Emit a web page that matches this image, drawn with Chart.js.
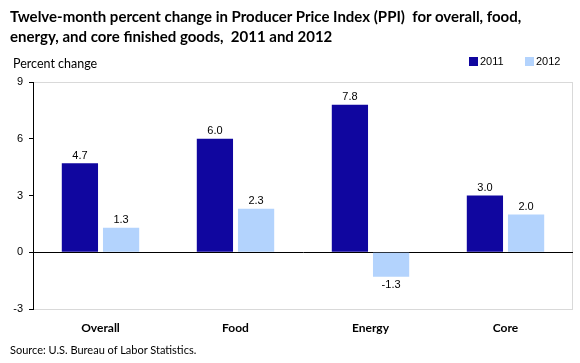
<!DOCTYPE html>
<html>
<head>
<meta charset="utf-8">
<script src="https://cdn.jsdelivr.net/npm/chart.js@4"></script>
<style>
  body { margin: 0; background: #fff; }
  #wrap { position: relative; width: 580px; height: 363px; overflow: hidden; }
  #chart { position: absolute; left: 0; top: 0; }
  .txt { position: absolute; font-family: Lato, "Open Sans", sans-serif; color: #000; white-space: nowrap; }
  #title { left: 10px; top: 6px; font-size: 15px; font-weight: bold; line-height: 20px; }
  #ylab { left: 13px; top: 56px; font-size: 12.5px; }
  #source { left: 10px; top: 343px; font-size: 11px; }
  #legend { position: absolute; top: 55px; left: 469px; font-family: "Liberation Sans", Arial, sans-serif; font-size: 11px; }
  .lg { position: absolute; top: 0; white-space: nowrap; }
  .sw { display: inline-block; width: 9px; height: 9px; margin-right: 2px; vertical-align: -1px; }
</style>
</head>
<body>
<div id="wrap">
  <canvas id="chart" width="580" height="363"></canvas>
  <div id="title" class="txt">Twelve-month percent change in Producer Price Index (PPI)&nbsp; for overall, food,<br>energy, and core finished goods,&nbsp; 2011 and 2012</div>
  <div id="ylab" class="txt">Percent change</div>
  <div id="legend"></div>
  <div id="source" class="txt">Source: U.S. Bureau of Labor Statistics.</div>
</div>
<script>
const categories = ['Overall', 'Food', 'Energy', 'Core'];
const values2011 = [4.7, 6.0, 7.8, 3.0];
const values2012 = [1.3, 2.3, -1.3, 2.0];
const seriesNames = ['2011', '2012'];
const seriesColors = ['#10069f', '#b3d3fd'];
const yTicks = [-3, 0, 3, 6, 9];

// legend in html
const legendEl = document.getElementById('legend');
seriesNames.forEach((name, i) => {
  const item = document.createElement('div');
  item.className = 'lg';
  item.style.left = (i * 56) + 'px';
  item.innerHTML = `<span class="sw" style="background:${seriesColors[i]}"></span>${name}`;
  legendEl.appendChild(item);
});

const frame = {
  id: 'frame',
  beforeDraw(chart) {
    const a = chart.chartArea;
    const ctx = chart.ctx;
    ctx.save();
    ctx.strokeStyle = '#d9d9d9';
    ctx.lineWidth = 1;
    ctx.strokeRect(a.left + 0.5, Math.round(a.top) + 0.5, a.right - a.left - 1, Math.round(a.bottom - a.top));
    ctx.restore();
  }
};

const valueLabels = {
  id: 'valueLabels',
  afterDatasetsDraw(chart) {
    const ctx = chart.ctx;
    ctx.save();
    ctx.font = '11px "Liberation Sans", Arial, sans-serif';
    ctx.fillStyle = '#000';
    ctx.textAlign = 'center';
    chart.data.datasets.forEach((ds, di) => {
      chart.getDatasetMeta(di).data.forEach((bar, i) => {
        const v = ds.data[i];
        if (v >= 0) {
          ctx.textBaseline = 'bottom';
          ctx.fillText(v.toFixed(1), bar.x, bar.y - 2);
        } else {
          ctx.textBaseline = 'top';
          ctx.fillText(v.toFixed(1), bar.x, bar.y + 3);
        }
      });
    });
    ctx.restore();
  }
};

new Chart(document.getElementById('chart'), {
  type: 'bar',
  data: {
    labels: categories,
    datasets: [
      { label: seriesNames[0], data: values2011, backgroundColor: seriesColors[0] },
      { label: seriesNames[1], data: values2012, backgroundColor: seriesColors[1] }
    ]
  },
  options: {
    responsive: false,
    animation: false,
    events: [],
    categoryPercentage: 0.61,
    barPercentage: 0.88,
    layout: { padding: { top: 82, right: 7, bottom: 0, left: 0 } },
    plugins: { legend: { display: false }, tooltip: { enabled: false } },
    scales: {
      x: {
        grid: { display: false },
        border: { display: false },
        ticks: {
          color: '#000',
          padding: 4,
          font: { family: 'Lato, "Open Sans", sans-serif', size: 12, weight: 'bold' }
        },
        afterFit(scale) { scale.height = 54; }
      },
      y: {
        min: -3,
        max: 9,
        afterBuildTicks(scale) { scale.ticks = yTicks.map(v => ({ value: v })); },
        grid: {
          color: ctx => ctx.tick && ctx.tick.value === 0 ? '#000' : 'transparent',
          tickColor: '#000',
          tickLength: 4,
          lineWidth: 1
        },
        border: { display: true, color: '#000' },
        ticks: {
          color: '#000',
          padding: 6,
          font: { family: '"Liberation Sans", Arial, sans-serif', size: 11 }
        },
        afterFit(scale) { scale.width = 33; }
      }
    }
  },
  plugins: [frame, valueLabels]
});
</script>
</body>
</html>
